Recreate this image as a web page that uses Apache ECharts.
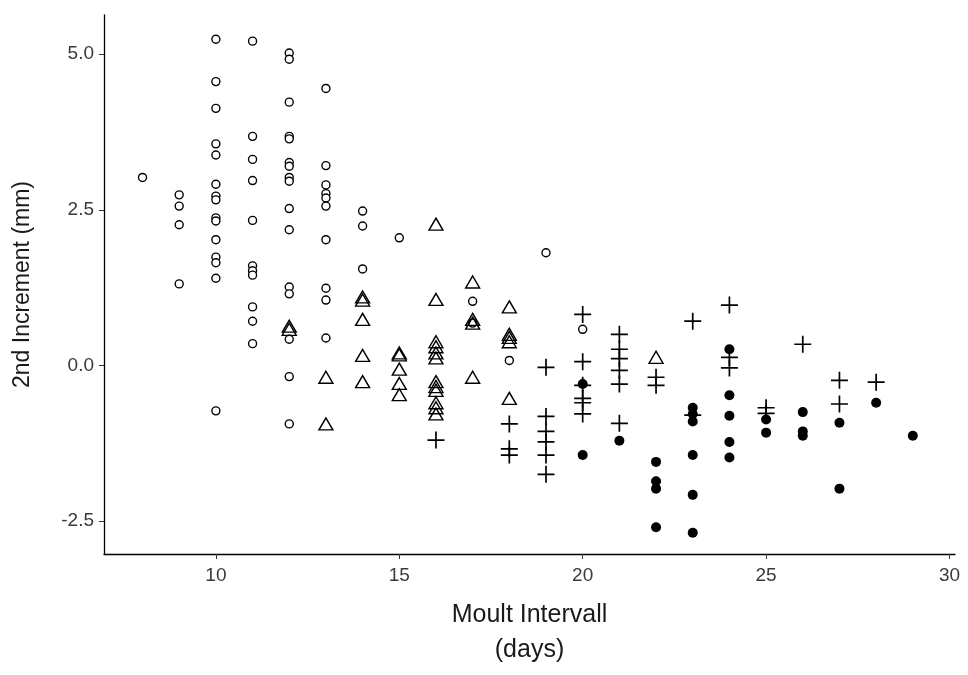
<!DOCTYPE html>
<html>
<head>
<meta charset="utf-8">
<script src="https://cdn.jsdelivr.net/npm/echarts@6/dist/echarts.min.js"></script>
<style>
  html, body { margin: 0; padding: 0; background: #fff; }
  #chart { width: 968px; height: 675px; }
</style>
</head>
<body>
<div id="chart"></div>
<script>
// [moult interval (days), 2nd increment (mm)] for each shape group
const openCircles = [
  [8, 3.02],
  [9, 2.74], [9, 2.56], [9, 2.26], [9, 1.31],
  [10, 5.24], [10, 4.56], [10, 4.13], [10, 3.56], [10, 3.38], [10, 2.91], [10, 2.72], [10, 2.66],
  [10, 2.37], [10, 2.32], [10, 2.02], [10, 1.74], [10, 1.65], [10, 1.40], [10, -0.73],
  [11, 5.21], [11, 3.68], [11, 3.31], [11, 2.97], [11, 2.33], [11, 1.60], [11, 1.52], [11, 1.45],
  [11, 0.94], [11, 0.71], [11, 0.35],
  [12, 5.02], [12, 4.92], [12, 4.23], [12, 3.68], [12, 3.64], [12, 3.26], [12, 3.20], [12, 3.02],
  [12, 2.96], [12, 2.52], [12, 2.18], [12, 1.26], [12, 1.15], [12, 0.42], [12, -0.18], [12, -0.94],
  [13, 4.45], [13, 3.21], [13, 2.90], [13, 2.76], [13, 2.69], [13, 2.56], [13, 2.02], [13, 1.24],
  [13, 1.05], [13, 0.44],
  [14, 2.48], [14, 2.24], [14, 1.55],
  [15, 2.05],
  [17, 1.03], [17, 0.68],
  [18, 0.08],
  [19, 1.81],
  [20, 0.58]
];

const triangles = [
  [12, 0.63], [12, 0.58],
  [13, -0.19], [13, -0.94],
  [14, 1.10], [14, 1.05], [14, 0.74], [14, 0.16], [14, -0.26],
  [15, 0.20], [15, 0.17], [15, -0.06], [15, -0.29], [15, -0.47],
  [16, 2.27], [16, 1.06], [16, 0.38], [16, 0.30], [16, 0.20], [16, 0.12], [16, -0.26], [16, -0.34],
  [16, -0.40], [16, -0.60], [16, -0.68], [16, -0.78],
  [17, 1.34], [17, 0.74], [17, 0.68], [17, -0.19],
  [18, 0.94], [18, 0.50], [18, 0.45], [18, 0.38], [18, -0.53],
  [22, 0.13]
];

const crosses = [
  [16, -1.20],
  [18, -0.94], [18, -1.34], [18, -1.44],
  [19, -0.03], [19, -0.82], [19, -1.06], [19, -1.23], [19, -1.44], [19, -1.75],
  [20, 0.82], [20, 0.06], [20, -0.32], [20, -0.53], [20, -0.60], [20, -0.78],
  [21, 0.50], [21, 0.26], [21, 0.11], [21, -0.08], [21, -0.30], [21, -0.93],
  [22, -0.19], [22, -0.32],
  [23, 0.71], [23, -0.80],
  [24, 0.97], [24, 0.13], [24, -0.04],
  [25, -0.68], [25, -0.77],
  [26, 0.34],
  [27, -0.24], [27, -0.62],
  [28, -0.27]
];

const filledCircles = [
  [20, -0.30], [20, -1.44],
  [21, -1.21],
  [22, -1.55], [22, -1.86], [22, -1.98], [22, -2.60],
  [23, -0.68], [23, -0.78], [23, -0.90], [23, -1.44], [23, -2.08], [23, -2.69],
  [24, 0.26], [24, -0.48], [24, -0.81], [24, -1.23], [24, -1.48],
  [25, -0.87], [25, -1.08],
  [26, -0.75], [26, -1.06], [26, -1.13],
  [27, -0.92], [27, -1.98],
  [28, -0.60],
  [29, -1.13]
];

const xTicks = [10, 15, 20, 25, 30];
const yTicks = [-2.5, 0, 2.5, 5];

const font = '"Liberation Sans Narrow", "Liberation Sans", Arial, sans-serif';
const plusPath = 'path://M4.5,0 H5.5 V4.5 H10 V5.5 H5.5 V10 H4.5 V5.5 H0 V4.5 H4.5 Z';

const chart = echarts.init(document.getElementById('chart'));

chart.setOption({
  animation: false,
  grid: { left: 104, right: 13, top: 15, bottom: 121 },
  xAxis: {
    type: 'value',
    min: 6.95,
    max: 30.15,
    name: 'Moult Intervall\n(days)',
    nameLocation: 'middle',
    nameGap: 44,
    nameTextStyle: { fontFamily: font, fontSize: 25, color: '#1a1a1a', lineHeight: 35 },
    axisLine: { show: true, onZero: false, lineStyle: { color: '#000', width: 1.3 } },
    axisTick: { show: true, customValues: xTicks, length: 5, lineStyle: { color: '#333' } },
    axisLabel: { customValues: xTicks, margin: 12, fontFamily: font, fontSize: 19, color: '#3a3a3a' },
    splitLine: { show: false }
  },
  yAxis: {
    type: 'value',
    min: -3.03,
    max: 5.63,
    name: '2nd Increment (mm)',
    nameLocation: 'middle',
    nameGap: 70,
    nameTextStyle: { fontFamily: font, fontSize: 23, color: '#1a1a1a' },
    axisLine: { show: true, onZero: false, lineStyle: { color: '#000', width: 1.3 } },
    axisTick: { show: true, customValues: yTicks, length: 5, lineStyle: { color: '#333' } },
    axisLabel: {
      customValues: yTicks,
      margin: 10,
      fontFamily: font,
      fontSize: 19,
      color: '#3a3a3a',
      formatter: v => v.toFixed(1)
    },
    splitLine: { show: false }
  },
  series: [
    {
      name: 'open',
      type: 'scatter',
      data: openCircles,
      symbol: 'circle',
      symbolSize: 8,
      itemStyle: { color: '#fff', borderColor: '#000', borderWidth: 1.4, opacity: 1 }
    },
    {
      name: 'triangle',
      type: 'scatter',
      data: triangles,
      symbol: 'triangle',
      symbolSize: [14, 12],
      itemStyle: { color: 'rgba(255,255,255,0)', borderColor: '#000', borderWidth: 1.4, opacity: 1 }
    },
    {
      name: 'plus',
      type: 'scatter',
      data: crosses,
      symbol: plusPath,
      symbolSize: 17,
      itemStyle: { color: '#000', opacity: 1 }
    },
    {
      name: 'filled',
      type: 'scatter',
      data: filledCircles,
      symbol: 'circle',
      symbolSize: 10,
      itemStyle: { color: '#000', opacity: 1 }
    }
  ]
});
</script>
</body>
</html>
